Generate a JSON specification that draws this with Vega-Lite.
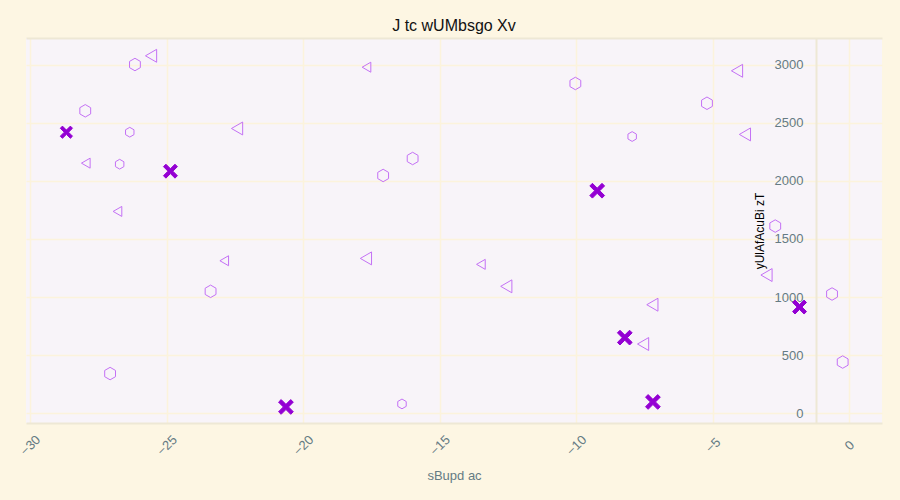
{
  "$schema": "https://vega.github.io/schema/vega-lite/v6.json",
  "width": 856,
  "height": 385,
  "autosize": {"type": "none"},
  "padding": {"left": 26, "top": 38, "right": 18, "bottom": 77},
  "background": "#fdf6e3",
  "title": {"text": "J tc wUMbsgo Xv", "font": "Liberation Sans", "fontSize": 16, "fontWeight": "normal", "color": "#111111", "offset": 4},
  "data": {"values": [
    {"x": -26.16, "y": 3000, "kind": "hex", "score": 85},
    {"x": -25.57, "y": 3075, "kind": "tri", "score": 92},
    {"x": -17.68, "y": 2977, "kind": "tri", "score": 50},
    {"x": -27.98, "y": 2602, "kind": "hex", "score": 85},
    {"x": -28.67, "y": 2418, "kind": "cross", "score": 52},
    {"x": -26.35, "y": 2418, "kind": "hex", "score": 47},
    {"x": -22.42, "y": 2450, "kind": "tri", "score": 92},
    {"x": -27.96, "y": 2152, "kind": "tri", "score": 50},
    {"x": -26.72, "y": 2143, "kind": "hex", "score": 47},
    {"x": -24.86, "y": 2083, "kind": "cross", "score": 72},
    {"x": -17.07, "y": 2046, "kind": "hex", "score": 85},
    {"x": -15.99, "y": 2192, "kind": "hex", "score": 85},
    {"x": -26.80, "y": 1737, "kind": "tri", "score": 50},
    {"x": -22.89, "y": 1313, "kind": "tri", "score": 50},
    {"x": -23.39, "y": 1050, "kind": "hex", "score": 85},
    {"x": -17.70, "y": 1333, "kind": "tri", "score": 92},
    {"x": -27.07, "y": 343, "kind": "hex", "score": 85},
    {"x": -20.63, "y": 56, "kind": "cross", "score": 82},
    {"x": -16.38, "y": 82, "kind": "hex", "score": 47},
    {"x": -13.49, "y": 1282, "kind": "tri", "score": 50},
    {"x": -12.56, "y": 1093, "kind": "tri", "score": 92},
    {"x": -10.03, "y": 2837, "kind": "hex", "score": 85},
    {"x": -7.95, "y": 2381, "kind": "hex", "score": 47},
    {"x": -9.23, "y": 1915, "kind": "cross", "score": 82},
    {"x": -5.21, "y": 2667, "kind": "hex", "score": 85},
    {"x": -4.11, "y": 2946, "kind": "tri", "score": 92},
    {"x": -3.82, "y": 2399, "kind": "tri", "score": 92},
    {"x": -2.71, "y": 1611, "kind": "hex", "score": 85},
    {"x": -3.03, "y": 1190, "kind": "tri", "score": 92},
    {"x": -1.82, "y": 915, "kind": "cross", "score": 72},
    {"x": -0.63, "y": 1027, "kind": "hex", "score": 85},
    {"x": -0.24, "y": 442, "kind": "hex", "score": 85},
    {"x": -7.21, "y": 935, "kind": "tri", "score": 92},
    {"x": -8.22, "y": 652, "kind": "cross", "score": 82},
    {"x": -7.55, "y": 597, "kind": "tri", "score": 92},
    {"x": -7.19, "y": 99, "kind": "cross", "score": 82}
  ]},
  "encoding": {
    "y": {
      "field": "y", "type": "quantitative",
      "scale": {"domain": [-82, 3228], "nice": false, "zero": false},
      "axis": {
        "orient": "left", "offset": -790, "title": "yUlAfAcuBi zT", "format": "d",
        "titleColor": "#000000", "titleFontSize": 12, "titlePadding": 8,
        "ticks": false, "labelPadding": 13, "tickCount": 7
      }
    }
  },
  "layer": [
    {
      "mark": {"type": "point", "filled": true, "strokeWidth": 1, "opacity": 1},
      "encoding": {
        "x": {
          "field": "x", "type": "quantitative",
          "scale": {"domain": [-30.15, 1.2], "nice": false, "zero": false},
          "axis": {
            "orient": "bottom", "title": "sBupd ac", "titleColor": "#657b83", "titleFontSize": 13,
            "labelAngle": -45, "labelAlign": "center", "labelBaseline": "middle",
            "ticks": false, "labelPadding": 22, "titlePadding": 12, "values": [-30, -25, -20, -15, -10, -5, 0]
          }
        },
        "shape": {
          "field": "kind", "type": "nominal", "legend": null,
          "scale": {"domain": ["cross", "hex", "tri"], "range": [
            "M-1.2,-0.78L-0.78,-1.2L0,-0.42L0.78,-1.2L1.2,-0.78L0.42,0L1.2,0.78L0.78,1.2L0,0.42L-0.78,1.2L-1.2,0.78L-0.42,0Z",
            "M0,-1L0.866,-0.5L0.866,0.5L0,1L-0.866,0.5L-0.866,-0.5Z",
            "triangle-left"
          ]}
        },
        "fill": {
          "field": "kind", "type": "nominal", "legend": null,
          "scale": {"domain": ["cross", "hex", "tri"], "range": ["#9400d3", "transparent", "transparent"]}
        },
        "stroke": {
          "field": "kind", "type": "nominal", "legend": null,
          "scale": {"domain": ["cross", "hex", "tri"], "range": ["#9400d3", "#c471f5", "#c471f5"]}
        },
        "size": {
          "field": "score", "type": "quantitative", "legend": null,
          "scale": {"domain": [0, 100], "range": [20, 180]}
        }
      }
    },
    {
      "mark": {"type": "point", "opacity": 0},
      "encoding": {
        "x": {
          "field": "x", "type": "quantitative",
          "scale": {"domain": [-30.15, 1.2], "nice": false, "zero": false},
          "axis": {"orient": "top", "title": null, "labels": false, "ticks": false, "grid": false}
        }
      }
    }
  ],
  "resolve": {"axis": {"x": "independent"}},
  "config": {
    "view": {"fill": "#f8f4f9", "stroke": null},
    "font": "Liberation Sans",
    "axis": {
      "domainColor": "#eee8d5", "domainWidth": 2,
      "gridColor": "#fcf3dc", "gridWidth": 1.5,
      "labelColor": "#657b83", "labelFont": "Liberation Sans", "labelFontSize": 13,
      "titleFont": "Liberation Sans", "titleFontWeight": "normal"
    }
  }
}
